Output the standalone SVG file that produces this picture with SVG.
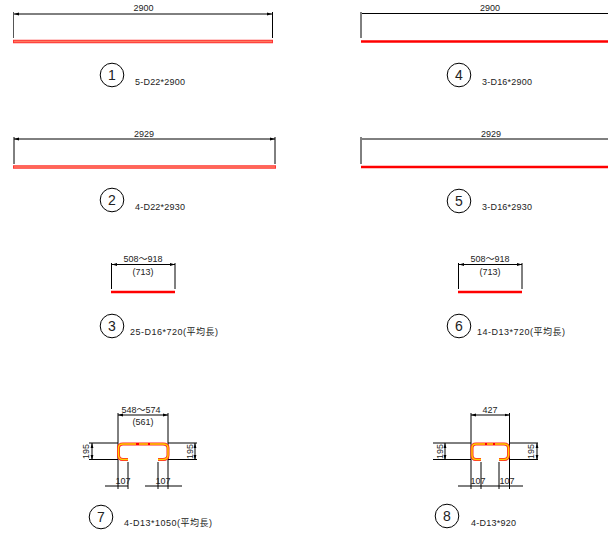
<svg xmlns="http://www.w3.org/2000/svg" width="608" height="534" viewBox="0 0 608 534">
<style>
.l{fill:none;stroke:#000;stroke-width:1}
.g{fill:none;stroke:#555;stroke-width:1}
.d{fill:none;stroke:#000;stroke-width:1;marker-start:url(#s);marker-end:url(#e)}
.c{fill:#fff;stroke:#000;stroke-width:1}
.t{font-family:"Liberation Sans","Noto Sans CJK JP",sans-serif;font-size:9px;fill:#222}
.j{font-family:"Noto Sans CJK JP",sans-serif;font-size:9px}
.m{text-anchor:middle}
.n{font-family:"Liberation Sans",sans-serif;font-size:14px;fill:#222;text-anchor:middle}
.b1{stroke:#f33;stroke-width:3.6;fill:none}
.b1i{stroke:#ff7a60;stroke-width:1.6;fill:none}
.b2{stroke:#f00;stroke-width:2.6;fill:none}
.b3{stroke:#f22;stroke-width:3;fill:none}
.b3i{stroke:#ffd000;stroke-width:1.4;fill:none}
.r{stroke:#f00;stroke-width:2;fill:none}
</style>
<defs>
<marker id="e" markerUnits="userSpaceOnUse" markerWidth="6" markerHeight="4" refX="5" refY="2" orient="auto"><path d="M0 .6 5 2 0 3.400Z" fill="#000"/></marker>
<marker id="s" markerUnits="userSpaceOnUse" markerWidth="6" markerHeight="4" refX="0" refY="2" orient="auto"><path d="M5 .6 0 2 5 3.400Z" fill="#000"/></marker>
</defs>
<g id="connectors">
<path class="g" d="M13.500 12V38"/><path class="l" d="M272.500 12V38"/><path class="d" d="M14 14H272"/>
<path class="l" d="M14 137V164M275 137V164"/><path class="d" d="M14 139H275"/>
<path class="l" d="M111.500 263V289M175 263V289"/><path class="d" d="M112 264.500H175"/>
<path class="l" d="M361 12V38"/><path class="l" d="M362 13.500H608"/>
<path class="l" d="M361 137V164"/><path class="l" d="M362 139H608"/>
<path class="l" d="M458.500 263V289M522 263V289"/><path class="d" d="M459 264.500H522"/>
</g>
<g id="node1"><path class="b1" d="M13 41.500H273"/><path class="b1i" d="M14 41.500H272"/><text class="t m" x="143.500" y="11">2900</text><circle class="c" cx="112" cy="75" r="11.800"/><text class="n" x="112" y="80">1</text><text class="t" x="135" y="85" textLength="50">5-D22*2900</text></g>
<g id="node2"><path class="b1" d="M13 167H276"/><path class="b1i" d="M14 167H275"/><text class="t m" x="144" y="137">2929</text><circle class="c" cx="112" cy="200" r="11.800"/><text class="n" x="112" y="205">2</text><text class="t" x="135" y="210" textLength="50">4-D22*2930</text></g>
<g id="node3"><path class="b2" d="M111 292H175"/><text class="t m" x="143" y="262">508～918</text><text class="t m" x="143" y="275">(713)</text><circle class="c" cx="112" cy="326" r="11.800"/><text class="n" x="112" y="331">3</text><text class="t" x="130" y="335" textLength="88">25-D16*720(<tspan class="j">平均長</tspan>)</text></g>
<g id="node4"><path class="b2" d="M361 41.500H608"/><text class="t m" x="490" y="11">2900</text><circle class="c" cx="459" cy="75" r="11.800"/><text class="n" x="459" y="80">4</text><text class="t" x="482" y="85" textLength="50">3-D16*2900</text></g>
<g id="node5"><path class="b2" d="M361 167H608"/><text class="t m" x="491" y="137">2929</text><circle class="c" cx="459" cy="201" r="11.800"/><text class="n" x="459" y="206">5</text><text class="t" x="482" y="210" textLength="50">3-D16*2930</text></g>
<g id="node6"><path class="b2" d="M458 292H522"/><text class="t m" x="490" y="262">508～918</text><text class="t m" x="490" y="275">(713)</text><circle class="c" cx="459" cy="326" r="11.800"/><text class="n" x="459" y="331">6</text><text class="t" x="477" y="335" textLength="88">14-D13*720(<tspan class="j">平均長</tspan>)</text></g>
<g id="node7">
<path class="l" d="M118 413V489M168 413V489M128 462V489M158 462V489M89 443H118M168 443H197M89 459.500H118M168 459.500H197"/>
<path class="d" d="M118 415H168"/><path class="d" d="M92 443V460"/><path class="d" d="M195 443V460"/>
<path class="l" d="M105 486H128M145 486H182"/>
<path class="b3" d="M128 459.500H123Q118.500 459.500 118.500 455V448Q118.500 444 123 444H163Q168 444 168 448V455Q168 459.500 163 459.500H158"/>
<path class="b3i" d="M128 459.500H123Q118.500 459.500 118.500 455V448Q118.500 444 123 444H163Q168 444 168 448V455Q168 459.500 163 459.500H158"/>
<path class="r" d="M136 444H139M148 444H150"/>
<text class="t m" x="141" y="413">548～574</text><text class="t m" x="143" y="425">(561)</text>
<text class="t m" transform="translate(89 451.500) rotate(-90)">195</text><text class="t m" transform="translate(193 451.500) rotate(-90)">195</text>
<text class="t m" x="123" y="484">107</text><text class="t m" x="163" y="484">107</text>
<circle class="c" cx="101" cy="517" r="11.800"/><text class="n" x="101" y="522">7</text><text class="t" x="124" y="526" textLength="88">4-D13*1050(<tspan class="j">平均長</tspan>)</text>
</g>
<g id="node8">
<path class="l" d="M471 413V489M509.500 413V489M481 462V489M499 462V489M433 443H471M509.500 443H538M433 459.500H471M509.500 459.500H538"/>
<path class="d" d="M471 415H509.500"/><path class="d" d="M445 443V460"/><path class="d" d="M537 443V460"/>
<path class="l" d="M458 486H523"/>
<path class="b3" d="M481 459.500H476Q472 459.500 472 455V448Q472 444 476 444H504Q508.500 444 508.500 448V455Q508.500 459.500 504 459.500H499"/>
<path class="b3i" d="M481 459.500H476Q472 459.500 472 455V448Q472 444 476 444H504Q508.500 444 508.500 448V455Q508.500 459.500 504 459.500H499"/>
<path class="r" d="M485 444H487M493 444H495"/>
<text class="t m" x="490" y="413">427</text>
<text class="t m" transform="translate(443 451.500) rotate(-90)">195</text><text class="t m" transform="translate(534 451.500) rotate(-90)">195</text>
<text class="t m" x="478" y="484">107</text><text class="t m" x="507" y="484">107</text>
<circle class="c" cx="447" cy="516" r="11.800"/><text class="n" x="447" y="521">8</text><text class="t" x="471" y="526" textLength="45">4-D13*920</text>
</g>
</svg>
